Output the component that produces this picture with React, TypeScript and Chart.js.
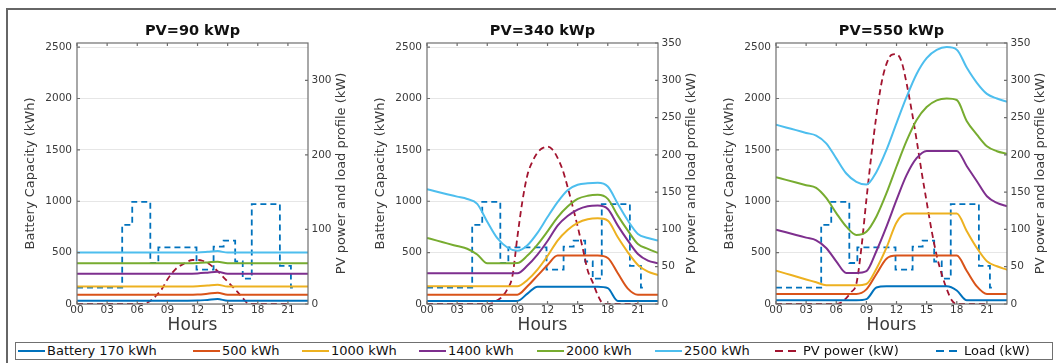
import React, { useEffect, useRef } from 'react';
import { Chart, registerables } from 'chart.js';

Chart.register(...registerables);

// ---------------- data ----------------
const hours = [0, 1, 2, 3, 4, 5, 6, 7, 8, 9, 10, 11, 12, 13, 14, 15, 16, 17, 18, 19, 20, 21, 22, 23];
const pvHours = [0, 1, 2, 3, 4, 5, 6, 6.5, 7, 7.5, 8, 8.5, 9, 9.5, 10, 10.5, 11, 11.5, 12, 12.5, 13, 13.5, 14, 14.5, 15, 15.5, 16, 16.5, 17, 17.5, 18, 19, 20, 21];
const loadHours = [0, 4.5, 5.5, 7.3, 8.1, 11.9, 13.6, 14.6, 15.75, 16.5, 17.4, 20.2, 21.3, 21.5];
const loadKW = [22, 106, 137, 55, 76, 46, 77, 85, 57, 34, 134, 51, 22, 22];

const panelTitles = ['PV=90 kWp', 'PV=340 kWp', 'PV=550 kWp'];
const batteryLabels = ['Battery 170 kWh', '500 kWh', '1000 kWh', '1400 kWh', '2000 kWh', '2500 kWh'];
const pvLabel = 'PV power (kW)';
const loadLabel = 'Load (kW)';
const xTickValues = [0, 3, 6, 9, 12, 15, 18, 21];
const xTickLabels = ['00', '03', '06', '09', '12', '15', '18', '21'];
const leftTickValues = [0, 500, 1000, 1500, 2000, 2500];
const rightTickValues = [
  [0, 100, 200, 300],
  [0, 50, 100, 150, 200, 250, 300, 350],
  [0, 50, 100, 150, 200, 250, 300, 350],
];

// PV = 90 kWp
const pv90 = [0, 0, 0, 0, 0, 0, 0, 0, 2, 6, 13, 21, 33, 42, 49, 53, 57, 59, 59, 58, 55, 50, 44, 37, 30, 23, 16, 8, 1, 0, 0, 0, 0, 0];
const bat170_pv90 = [32, 32, 32, 32, 32, 32, 32, 32, 32, 32, 32, 32, 33, 40, 48, 32, 32, 32, 32, 32, 32, 32, 32, 32];
const bat500_pv90 = [90, 90, 90, 90, 90, 90, 90, 90, 90, 90, 90, 90, 92, 100, 110, 90, 90, 90, 90, 90, 90, 90, 90, 90];
const bat1000_pv90 = [170, 170, 170, 170, 170, 170, 170, 170, 170, 170, 170, 170, 172, 180, 188, 170, 170, 170, 170, 170, 170, 170, 170, 170];
const bat1400_pv90 = [295, 295, 295, 295, 295, 295, 295, 295, 295, 295, 295, 295, 298, 305, 313, 295, 295, 295, 295, 295, 295, 295, 295, 295];
const bat2000_pv90 = [397, 397, 397, 397, 397, 397, 397, 397, 397, 397, 397, 397, 399, 405, 412, 397, 397, 397, 397, 397, 397, 397, 397, 397];
const bat2500_pv90 = [500, 500, 500, 500, 500, 500, 500, 500, 500, 500, 500, 500, 502, 508, 515, 500, 500, 500, 500, 500, 500, 500, 500, 500];

// PV = 340 kWp
const pv340 = [0, 0, 0, 0, 0, 0, 0, 1, 5, 10, 20, 37, 90, 138, 173, 191, 203, 209, 211, 207, 196, 180, 157, 131, 104, 75, 45, 29, 12, 1, 0, 0, 0, 0];
const bat170_pv340 = [30, 30, 30, 30, 30, 30, 30, 30, 30, 30, 101, 169, 169, 169, 169, 169, 169, 169, 155, 30, 30, 30, 30, 30];
const bat500_pv340 = [91, 91, 91, 91, 91, 91, 91, 91, 91, 91, 173, 276, 379, 471, 471, 471, 471, 471, 448, 299, 150, 91, 91, 91];
const bat1000_pv340 = [172, 172, 172, 172, 172, 172, 172, 172, 172, 172, 234, 335, 467, 617, 721, 790, 825, 834, 812, 649, 503, 380, 315, 282];
const bat1400_pv340 = [300, 300, 300, 300, 300, 300, 300, 300, 300, 300, 374, 481, 613, 763, 856, 918, 951, 958, 925, 763, 617, 487, 422, 396];
const bat2000_pv340 = [643, 617, 590, 564, 538, 482, 396, 396, 396, 398, 471, 578, 707, 844, 948, 1023, 1053, 1062, 1023, 860, 714, 584, 536, 497];
const bat2500_pv340 = [1117, 1092, 1068, 1045, 1022, 975, 800, 640, 550, 518, 572, 692, 846, 992, 1108, 1160, 1175, 1179, 1143, 975, 812, 682, 643, 617];

// PV = 550 kWp
const pv550 = [0, 0, 0, 0, 0, 0, 0, 2, 8, 16, 27, 75, 140, 200, 253, 296, 322, 334, 335, 325, 296, 260, 220, 177, 137, 98, 65, 40, 20, 5, 0, 0, 0, 0];
const bat170_pv550 = [36, 36, 36, 36, 36, 36, 36, 36, 36, 47, 160, 172, 172, 172, 172, 172, 172, 172, 131, 36, 36, 36, 36, 36];
const bat500_pv550 = [97, 97, 97, 97, 97, 97, 97, 97, 97, 142, 292, 441, 471, 471, 471, 471, 471, 471, 471, 321, 171, 97, 97, 97];
const bat1000_pv550 = [325, 296, 268, 239, 211, 182, 182, 182, 182, 195, 344, 548, 794, 880, 880, 880, 880, 880, 880, 708, 545, 416, 367, 334];
const bat1400_pv550 = [724, 698, 672, 646, 620, 545, 415, 302, 302, 320, 516, 753, 1013, 1254, 1419, 1490, 1490, 1490, 1490, 1341, 1195, 1049, 984, 951];
const bat2000_pv550 = [1234, 1208, 1182, 1156, 1130, 1032, 885, 753, 672, 703, 852, 1078, 1338, 1587, 1791, 1917, 1982, 2000, 1985, 1779, 1649, 1536, 1487, 1461];
const bat2500_pv550 = [1745, 1718, 1692, 1665, 1639, 1564, 1417, 1270, 1189, 1162, 1285, 1500, 1760, 2015, 2239, 2393, 2473, 2500, 2475, 2299, 2153, 2045, 2000, 1968];

const panelBatteries = [
  [bat170_pv90, bat500_pv90, bat1000_pv90, bat1400_pv90, bat2000_pv90, bat2500_pv90],
  [bat170_pv340, bat500_pv340, bat1000_pv340, bat1400_pv340, bat2000_pv340, bat2500_pv340],
  [bat170_pv550, bat500_pv550, bat1000_pv550, bat1400_pv550, bat2000_pv550, bat2500_pv550],
];
const panelPV = [pv90, pv340, pv550];

// ---------------- styles / layout ----------------
const batteryColors = ['#0072BD', '#D95319', '#EDB120', '#7E2F8E', '#77AC30', '#4DBEEE'];
const pvColor = '#A2142F';
const loadColor = '#0072BD';
const FONT = "'DejaVu Sans', sans-serif";
const TEXT = '#3a3a3a';
const AXIS = '#6e6e6e';
const panelLefts = [7, 357, 706];
const CANVAS_W = 350;
const CANVAS_H = 338;
const legendLefts = [18, 193, 302, 419, 537, 655, 775, 936];

const axesBoxPlugin = {
  id: 'axesBox',
  afterDatasetsDraw(chart: any, _args: any, opts: any) {
    const { ctx, chartArea: a, scales } = chart;
    const L = opts.tickLen;
    ctx.save();
    ctx.strokeStyle = opts.color;
    ctx.lineWidth = opts.lineWidth;
    ctx.beginPath();
    scales.x.ticks.forEach((t: any) => {
      const px = scales.x.getPixelForValue(t.value);
      ctx.moveTo(px, a.bottom);
      ctx.lineTo(px, a.bottom - L);
      ctx.moveTo(px, a.top);
      ctx.lineTo(px, a.top + L);
    });
    scales.y.ticks.forEach((t: any) => {
      const py = scales.y.getPixelForValue(t.value);
      ctx.moveTo(a.left, py);
      ctx.lineTo(a.left + L, py);
    });
    scales.y1.ticks.forEach((t: any) => {
      const py = scales.y1.getPixelForValue(t.value);
      ctx.moveTo(a.right, py);
      ctx.lineTo(a.right - L, py);
    });
    ctx.stroke();
    ctx.strokeRect(a.left, a.top, a.right - a.left, a.bottom - a.top);
    ctx.restore();
  },
};

const rightTitlePlugin = {
  id: 'rightTitle',
  afterDraw(chart: any, _args: any, opts: any) {
    const { ctx, chartArea: a } = chart;
    ctx.save();
    ctx.translate(a.right + opts.offset, (a.top + a.bottom) / 2);
    ctx.rotate(-Math.PI / 2);
    ctx.font = `${opts.size}px ${FONT}`;
    ctx.fillStyle = opts.color;
    ctx.textAlign = 'center';
    ctx.textBaseline = 'middle';
    ctx.fillText(opts.text, 0, 0);
    ctx.restore();
  },
};

function buildConfig(p: number): any {
  const batteryDatasets = batteryLabels.map((label, k) => ({
    label,
    data: hours.map((h, i) => ({ x: h, y: panelBatteries[p][k][i] })),
    borderColor: batteryColors[k],
    backgroundColor: batteryColors[k],
    borderWidth: 2,
    pointRadius: 0,
    cubicInterpolationMode: 'monotone',
    fill: false,
    yAxisID: 'y',
  }));
  const pvDataset = {
    label: pvLabel,
    data: pvHours.map((h, i) => ({ x: h, y: panelPV[p][i] })),
    borderColor: pvColor,
    borderWidth: 1.8,
    borderDash: [6, 4],
    pointRadius: 0,
    cubicInterpolationMode: 'monotone',
    fill: false,
    yAxisID: 'y1',
  };
  const loadDataset = {
    label: loadLabel,
    data: loadHours.map((h, i) => ({ x: h, y: loadKW[i] })),
    borderColor: loadColor,
    borderWidth: 1.8,
    borderDash: [6, 4],
    pointRadius: 0,
    stepped: 'before',
    fill: false,
    yAxisID: 'y1',
  };
  const tickFont = { family: FONT, size: 10.5 };
  return {
    type: 'line',
    data: { datasets: [...batteryDatasets, pvDataset, loadDataset] },
    plugins: [axesBoxPlugin, rightTitlePlugin],
    options: {
      responsive: false,
      animation: false,
      devicePixelRatio: 1,
      layout: { padding: 0 },
      events: [],
      plugins: {
        legend: { display: false },
        tooltip: { enabled: false },
        title: {
          display: true,
          text: panelTitles[p],
          fullSize: false,
          color: '#111',
          font: { family: FONT, size: 14.5, weight: 'bold' },
          padding: { top: 22.8, bottom: 2.8 },
        },
        axesBox: { color: AXIS, lineWidth: 1.2, tickLen: 3 },
        rightTitle: { text: 'PV power and load profile (kW)', offset: 34, size: 13, color: TEXT },
      },
      scales: {
        x: {
          type: 'linear',
          position: 'bottom',
          min: 0,
          max: 23,
          grid: { display: false, drawTicks: false },
          border: { display: false },
          afterBuildTicks: (s: any) => { s.ticks = xTickValues.map((v) => ({ value: v })); },
          ticks: {
            autoSkip: false,
            maxRotation: 0,
            padding: 0,
            color: TEXT,
            font: tickFont,
            callback: (v: number) => xTickLabels[xTickValues.indexOf(v)],
          },
          title: {
            display: true,
            text: 'Hours',
            color: TEXT,
            font: { family: FONT, size: 17 },
            padding: { top: 0, bottom: 2.3 },
          },
          afterFit: (s: any) => { s.height = 34; },
        },
        y: {
          type: 'linear',
          position: 'left',
          min: 0,
          max: 2540,
          grid: { color: '#e6e6e6', lineWidth: 1, drawTicks: false },
          border: { display: false },
          afterBuildTicks: (s: any) => { s.ticks = leftTickValues.map((v) => ({ value: v })); },
          ticks: {
            autoSkip: false,
            padding: 5,
            color: TEXT,
            font: tickFont,
            callback: (v: number) => String(v),
          },
          title: {
            display: true,
            text: 'Battery Capacity (kWh)',
            color: TEXT,
            font: { family: FONT, size: 13 },
            padding: { top: 16.2, bottom: 0 },
          },
          afterFit: (s: any) => { s.width = 70; },
        },
        y1: {
          type: 'linear',
          position: 'right',
          min: 0,
          max: 350,
          grid: { display: false, drawTicks: false },
          border: { display: false },
          afterBuildTicks: (s: any) => { s.ticks = rightTickValues[p].map((v) => ({ value: v })); },
          ticks: {
            autoSkip: false,
            padding: 3.5,
            color: TEXT,
            font: tickFont,
            callback: (v: number) => String(v),
          },
          afterFit: (s: any) => { s.width = CANVAS_W - 70 - 231; },
        },
      },
    },
  };
}

function Panel({ index }: { index: number }) {
  const ref = useRef<HTMLCanvasElement>(null);
  useEffect(() => {
    const chart = new Chart(ref.current as HTMLCanvasElement, buildConfig(index));
    return () => chart.destroy();
  }, [index]);
  return (
    <canvas
      ref={ref}
      width={CANVAS_W}
      height={CANVAS_H}
      style={{ position: 'absolute', left: panelLefts[index], top: 0, width: CANVAS_W, height: CANVAS_H }}
    />
  );
}

const legendItems = [
  ...batteryLabels.map((label, k) => ({ label, color: batteryColors[k], dashed: false })),
  { label: pvLabel, color: pvColor, dashed: true },
  { label: loadLabel, color: loadColor, dashed: true },
];

function Legend() {
  return (
    <div
      style={{
        position: 'absolute', left: 15, top: 342, width: 1036, height: 16,
        border: '1px solid #707070', background: '#fff',
      }}
    >
      {legendItems.map((it, i) => (
        <div
          key={i}
          style={{
            position: 'absolute', left: legendLefts[i] - 16, top: 0, height: 16,
            display: 'flex', alignItems: 'center', whiteSpace: 'nowrap',
          }}
        >
          <svg width={it.dashed ? 22 : 27} height={4} style={{ display: 'block' }}>
            <line
              x1={0} y1={2} x2={it.dashed ? 22 : 27} y2={2}
              stroke={it.color} strokeWidth={2}
              strokeDasharray={it.dashed ? '8 5' : undefined}
            />
          </svg>
          <span style={{ marginLeft: it.dashed ? 6 : 2, font: `13px ${FONT}`, color: '#111', lineHeight: '16px' }}>
            {it.label}
          </span>
        </div>
      ))}
    </div>
  );
}

export default function App() {
  return (
    <div style={{ position: 'absolute', left: 0, top: 0, width: 1056, height: 363, background: '#fff', overflow: 'hidden' }}>
      <div
        style={{
          position: 'absolute', left: 6, top: 8, width: 1060, height: 360,
          borderTop: '2px solid #666', borderLeft: '2px solid #666',
        }}
      />
      <Panel index={0} />
      <Panel index={1} />
      <Panel index={2} />
      <Legend />
    </div>
  );
}
